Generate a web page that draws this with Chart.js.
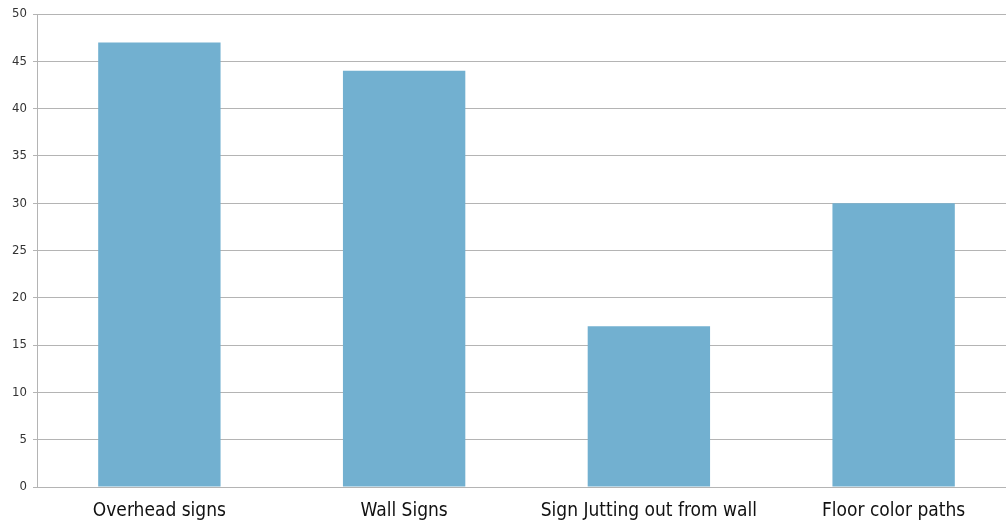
<!DOCTYPE html>
<html>
<head>
<meta charset="utf-8">
<script src="https://cdn.jsdelivr.net/npm/chart.js@4/dist/chart.umd.min.js"></script>
<style>
  html, body { margin: 0; padding: 0; background: #fff; overflow: hidden; }
  #wrap { width: 1016px; height: 522px; }
</style>
</head>
<body>
<div id="wrap"><canvas id="c" width="1016" height="522"></canvas></div>
<script>
const categories = ["Overhead signs", "Wall Signs", "Sign Jutting out from wall", "Floor color paths"];
const responses = [47, 44, 17, 30];
const yTicks = [0, 5, 10, 15, 20, 25, 30, 35, 40, 45, 50];

const labelFont = "'Liberation Sans Narrow', 'DejaVu Sans Condensed', sans-serif";

new Chart(document.getElementById('c'), {
  type: 'bar',
  data: {
    labels: categories,
    datasets: [{
      data: responses,
      backgroundColor: '#72b0d0',
      borderWidth: 0,
      barPercentage: 0.5,
      categoryPercentage: 1.0
    }]
  },
  options: {
    responsive: false,
    animation: false,
    layout: { padding: { top: 14, right: 0, left: 0, bottom: 0 } },
    plugins: { legend: { display: false }, tooltip: { enabled: false } },
    scales: {
      x: {
        grid: { display: false },
        border: { display: true, color: '#b4b4b4', width: 1 },
        ticks: {
          color: '#111',
          padding: 5,
          maxRotation: 0,
          font: { family: labelFont, size: 19 }
        },
        afterFit: (s) => { s.height = 35; }
      },
      y: {
        min: 0,
        max: 50,
        afterBuildTicks: (s) => { s.ticks = yTicks.map(v => ({ value: v })); },
        grid: { color: '#b4b4b4', lineWidth: 1, tickLength: 4, drawTicks: true },
        border: { display: true, color: '#b4b4b4', width: 1 },
        ticks: {
          color: '#333',
          padding: 6,
          font: { family: labelFont, size: 13 }
        },
        afterFit: (s) => { s.width = 37; }
      }
    }
  }
});
</script>
</body>
</html>
